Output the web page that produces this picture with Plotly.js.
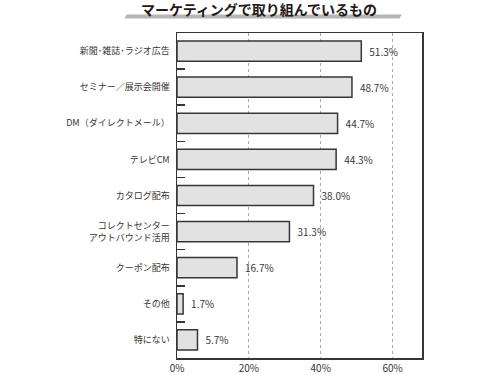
<!DOCTYPE html>
<html><head><meta charset="utf-8">
<script src="https://cdn.plot.ly/plotly-3.0.1.min.js"></script>
<style>body{margin:0;background:#fff}#c{width:500px;height:375px}</style>
</head><body><div id="c"></div>
<script>
const categories = ["新聞･雑誌･ラジオ広告","セミナー／展示会開催","DM（ダイレクトメール）","テレビCM","カタログ配布","コレクトセンター<br>アウトバウンド活用","クーポン配布","その他","特にない"];
const values = [51.3, 48.7, 44.7, 44.3, 38.0, 31.3, 16.7, 1.7, 5.7];
const tickVals = [0, 20, 40, 60];
const tickText = ["0%", "20%", "40%", "60%"];
const titleText = "マーケティングで取り組んでいるもの";

const font = "'Noto Sans CJK JP', 'Noto Sans', sans-serif";
const trace = {
  type: 'bar', orientation: 'h',
  x: values, y: categories,
  marker: {color: '#e2e2e2', line: {color: '#3a3534', width: 1.5}},
  text: values.map(v => '\u2002' + v.toFixed(1) + '%'),
  textposition: 'outside', cliponaxis: false,
  textfont: {family: font, size: 10, color: '#3a3534'},
  hoverinfo: 'none'
};
const layout = {
  width: 500, height: 375,
  margin: {l: 177, r: 78, t: 33, b: 17},
  paper_bgcolor: '#fff', plot_bgcolor: '#fff',
  bargap: 0.44, showlegend: false,
  font: {family: font, color: '#3a3534'},
  title: {text: titleText, font: {family: font, size: 14, color: '#231815', weight: 'bold'}, x: 0.518, xanchor: 'center', y: 0.972, yanchor: 'middle'},
  xaxis: {range: [0, 68.2], tickvals: tickVals, ticktext: tickText, showgrid: true,
    gridcolor: '#aaa', griddash: 'dot', gridwidth: 1, zeroline: false,
    showline: true, linecolor: '#3a3534', linewidth: 1.5, mirror: true, ticks: '',
    tickfont: {family: font, size: 10, color: '#3a3534'}, fixedrange: true},
  yaxis: {autorange: 'reversed', type: 'category', showline: true, linecolor: '#3a3534', linewidth: 1.5, mirror: true,
    ticks: 'inside', tickson: 'boundaries', ticklen: 8, tickwidth: 1.5, tickcolor: '#3a3534',
    ticklabelstandoff: 4, tickfont: {family: font, size: 9, color: '#3a3534'}, showgrid: false, fixedrange: true},
  shapes: [{type: 'path', xref: 'paper', yref: 'paper',
    path: 'M -0.205 1.057 L 0.918 1.057 L 0.908 1.045 L -0.215 1.045 Z',
    fillcolor: '#b5b5b5', line: {width: 0}, layer: 'below'}]
};
Plotly.newPlot('c', [trace], layout, {displayModeBar: false, staticPlot: true});
</script></body></html>
